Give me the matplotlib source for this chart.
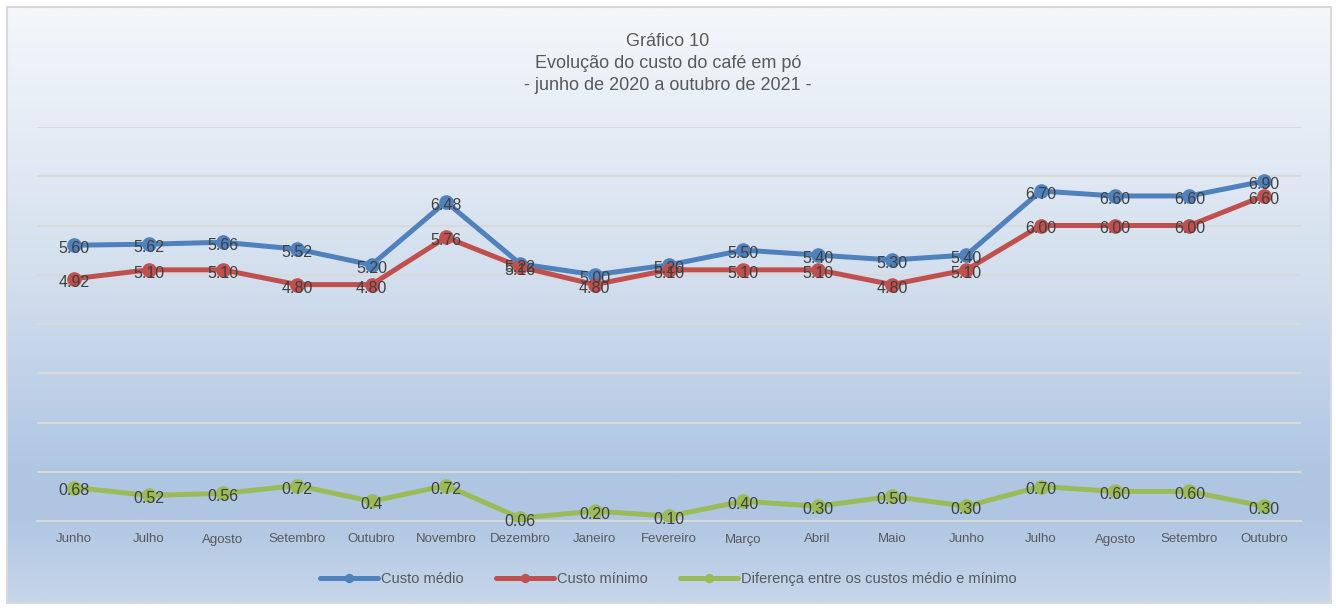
import numpy as np
import matplotlib.pyplot as plt
from matplotlib.colors import LinearSegmentedColormap
from matplotlib.patches import Rectangle

# dados do gráfico
meses = ["Junho", "Julho", "Agosto", "Setembro", "Outubro", "Novembro", "Dezembro",
         "Janeiro", "Fevereiro", "Março", "Abril", "Maio", "Junho", "Julho",
         "Agosto", "Setembro", "Outubro"]
custo_medio = [5.60, 5.62, 5.66, 5.52, 5.20, 6.48, 5.22, 5.00, 5.20, 5.50, 5.40,
               5.30, 5.40, 6.70, 6.60, 6.60, 6.90]
custo_minimo = [4.92, 5.10, 5.10, 4.80, 4.80, 5.76, 5.16, 4.80, 5.10, 5.10, 5.10,
                4.80, 5.10, 6.00, 6.00, 6.00, 6.60]
diferenca = [0.68, 0.52, 0.56, 0.72, 0.4, 0.72, 0.06, 0.20, 0.10, 0.40, 0.30,
             0.50, 0.30, 0.70, 0.60, 0.60, 0.30]
rotulos_dif = ["0.68", "0.52", "0.56", "0.72", "0.4", "0.72", "0.06", "0.20", "0.10",
               "0.40", "0.30", "0.50", "0.30", "0.70", "0.60", "0.60", "0.30"]

plt.rcParams['font.family'] = ['Liberation Sans', 'DejaVu Sans']

W, H = 1336, 608
fig = plt.figure(figsize=(W / 100, H / 100), dpi=100)
fig.patch.set_facecolor("white")

# fundo em gradiente (estilo Excel)
bg = fig.add_axes([0, 0, 1, 1], zorder=-5)
bg.set_xlim(0, W)
bg.set_ylim(H, 0)
bg.axis("off")
cmap = LinearSegmentedColormap.from_list(
    "fundo", [(0.0, "#f4f7fb"), (0.45, "#d3dfee"), (0.78, "#afc6e2"),
              (0.86, "#afc6e2"), (1.0, "#c6d6ea")])
grad = np.linspace(0, 1, 300).reshape(-1, 1)
bg.imshow(grad, cmap=cmap, aspect="auto", extent=(7, 1330, 602, 7), interpolation="bilinear")
bg.add_patch(Rectangle((6.5, 6.5), 1324, 596, fill=False, edgecolor="#d9d9d9", lw=1.5))

ax = fig.add_axes([37 / W, 1 - 521 / H, 1264 / W, 394 / H])
ax.set_facecolor("none")
x = np.arange(len(meses))

series = [(custo_medio, "#4f81bd", "Custo médio", ["%.2f" % v for v in custo_medio]),
          (custo_minimo, "#c0504d", "Custo mínimo", ["%.2f" % v for v in custo_minimo]),
          (diferenca, "#9bbb59", "Diferença entre os custos médio e mínimo", rotulos_dif)]

for vals, cor, nome, rots in series:
    ax.plot(x, vals, color=cor, lw=3.6, marker="o", ms=9.5, label=nome,
            solid_capstyle="round", zorder=3)
    for xi, v, r in zip(x, vals, rots):
        ax.annotate(r, (xi, v), xytext=(0, -2.5), textcoords="offset points",
                    ha="center", va="center", fontsize=11.5, color="#404040", zorder=5)

ax.set_xlim(-0.5, len(meses) - 0.5)
ax.set_ylim(0, 8)
ax.set_yticks(np.arange(0, 9, 1))
ax.yaxis.grid(True, color="#d9d9d9", lw=1.5)
ax.set_axisbelow(True)
ax.tick_params(axis="y", left=False, labelleft=False)
ax.tick_params(axis="x", length=0, pad=9, labelsize=9.5, labelcolor="#595959")
ax.set_xticks(x)
ax.set_xticklabels(meses)
for s in ["top", "right", "left"]:
    ax.spines[s].set_visible(False)
ax.spines["bottom"].set_color("#d9d9d9")
ax.spines["bottom"].set_linewidth(1.5)

titulo = ["Gráfico 10", "Evolução do custo do café em pó", "- junho de 2020 a outubro de 2021 -"]
for yy, t in zip([42, 63, 85], titulo):
    fig.text(0.5, 1 - yy / H, t, ha="center", va="center", fontsize=13, color="#595959")

leg = fig.legend(loc="center", bbox_to_anchor=(0.5, 1 - 579 / H), ncol=3, frameon=False,
                 fontsize=10.5, handlelength=4, columnspacing=2.2, markerscale=0.6,
                 handletextpad=0.2)
for t in leg.get_texts():
    t.set_color("#595959")

fig.savefig("out.png", dpi=100)
